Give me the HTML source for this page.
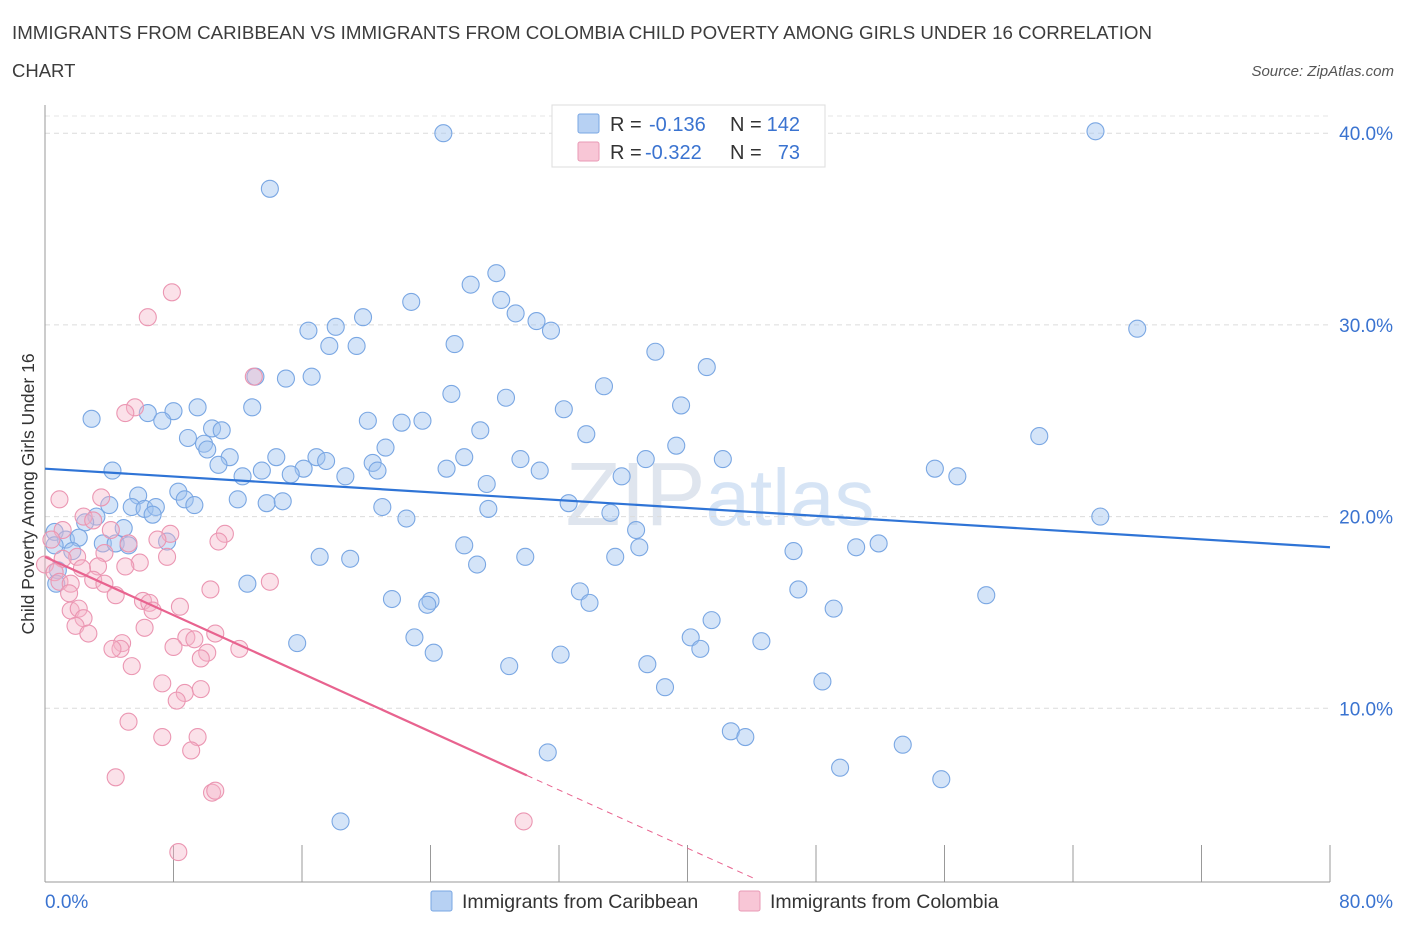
<!DOCTYPE html>
<html><head><meta charset="utf-8"><style>
body{margin:0;background:#fff;font-family:"Liberation Sans",sans-serif;}
svg text{font-family:"Liberation Sans",sans-serif;}
</style></head><body>
<svg id="chart" width="1406" height="930">
<text x="12" y="39" font-size="18.5" fill="#3c3c3c" textLength="1140" lengthAdjust="spacingAndGlyphs">IMMIGRANTS FROM CARIBBEAN VS IMMIGRANTS FROM COLOMBIA CHILD POVERTY AMONG GIRLS UNDER 16 CORRELATION</text>
<text x="12" y="77" font-size="18.5" fill="#3c3c3c">CHART</text>
<text x="1394" y="76" font-size="15" fill="#555" font-style="italic" text-anchor="end">Source: ZipAtlas.com</text>
<text x="720" y="525" font-size="90" fill="#dfe5ee" text-anchor="middle" font-family="Liberation Serif">ZIP<tspan fill="#d6e4f5" font-family="Liberation Sans" font-size="80">atlas</tspan></text>
<g id="grid"></g>
<g id="axes"></g>
<g id="dots"></g>
<g id="trends"></g>
<text x="0" y="0" transform="translate(34,494) rotate(-90)" font-size="17.5" fill="#333" text-anchor="middle">Child Poverty Among Girls Under 16</text>
<g>
<rect x="552" y="105" width="273" height="62" fill="#fff" stroke="#ddd"/>
<rect x="578" y="114" width="21" height="19" fill="#b7d1f3" stroke="#7aa7e3" rx="2"/>
<rect x="578" y="142" width="21" height="19" fill="#f8c6d6" stroke="#e99ab5" rx="2"/>
<text x="610" y="131" font-size="20" fill="#333">R =</text>
<text x="649" y="131" font-size="20" fill="#3a73d0">-0.136</text>
<text x="730" y="131" font-size="20" fill="#333">N =</text>
<text x="800" y="131" font-size="20" fill="#3a73d0" text-anchor="end">142</text>
<text x="610" y="159" font-size="20" fill="#333">R =</text>
<text x="645" y="159" font-size="20" fill="#3a73d0">-0.322</text>
<text x="730" y="159" font-size="20" fill="#333">N =</text>
<text x="800" y="159" font-size="20" fill="#3a73d0" text-anchor="end">73</text>
</g>
<g>
<rect x="431" y="891" width="21" height="20" fill="#b7d1f3" stroke="#7aa7e3" rx="2"/>
<text x="462" y="908" font-size="19.5" fill="#333">Immigrants from Caribbean</text>
<rect x="739" y="891" width="21" height="20" fill="#f8c6d6" stroke="#e99ab5" rx="2"/>
<text x="770" y="908" font-size="19.5" fill="#333">Immigrants from Colombia</text>
</g>
</svg>
<script>
const xTicks=[0,8,16,24,32,40,48,56,64,72,80];
const yTicks=[10,20,30,40];
const blueX=[24.8,65.4,14.0,28.1,26.5,22.8,28.4,29.3,19.8,18.1,16.4,30.6,31.5,68.0,17.7,19.4,25.5,38.0,41.2,16.6,15.0,13.1,34.8,25.3,28.7,39.6,32.3,9.5,12.9,8.0,6.4,2.9,7.3,20.1,22.2,23.5,33.7,27.1,61.9,8.9,10.4,11.0,21.2,9.9,10.1,39.3,11.5,14.4,16.9,17.5,26.1,29.6,37.4,42.2,10.8,4.2,13.5,16.1,20.4,20.7,25.0,30.8,35.9,55.4,56.8,12.3,15.3,18.7,27.5,8.3,8.7,5.8,12.0,4.0,5.4,6.2,6.9,9.3,13.8,14.8,21.0,27.6,32.6,35.2,65.7,6.7,3.2,22.5,2.5,4.9,0.6,1.3,2.1,36.8,3.6,4.4,5.2,7.6,0.6,1.7,26.1,37.0,46.6,50.5,51.9,17.1,19.0,29.9,35.5,26.9,0.8,0.7,12.6,33.3,46.9,58.6,21.6,33.9,24.0,23.8,49.1,41.5,40.2,23.0,44.6,15.7,40.8,24.2,32.1,37.5,28.9,48.4,38.6,31.3,42.7,43.6,53.4,49.5,55.8,18.4];
const blueY=[40.0,40.1,37.1,32.7,32.1,31.2,31.3,30.6,30.4,29.9,29.7,30.2,29.7,29.8,28.9,28.9,29.0,28.6,27.8,27.3,27.2,27.3,26.8,26.4,26.2,25.8,25.6,25.7,25.7,25.5,25.4,25.1,25.0,25.0,24.9,25.0,24.3,24.5,24.2,24.1,24.6,24.5,23.6,23.8,23.5,23.7,23.1,23.1,23.1,22.9,23.1,23.0,23.0,23.0,22.7,22.4,22.4,22.5,22.8,22.4,22.5,22.4,22.1,22.5,22.1,22.1,22.2,22.1,21.7,21.3,20.9,21.1,20.9,20.6,20.5,20.4,20.5,20.6,20.7,20.8,20.5,20.4,20.7,20.2,20.0,20.1,20.0,19.9,19.7,19.4,19.2,18.8,18.9,19.3,18.6,18.6,18.5,18.7,18.5,18.2,18.5,18.4,18.2,18.4,18.6,17.9,17.8,17.9,17.9,17.5,17.2,16.5,16.5,16.1,16.2,15.9,15.7,15.5,15.6,15.4,15.2,14.6,13.7,13.7,13.5,13.4,13.1,12.9,12.8,12.3,12.2,11.4,11.1,7.7,8.8,8.5,8.1,6.9,6.3,4.1];
const pinkX=[7.9,6.4,13.0,5.6,5.0,0.9,3.5,2.4,3.0,1.1,4.1,5.2,11.2,7.8,7.0,10.8,0.4,3.7,2.0,7.6,1.1,0.0,5.9,3.3,2.3,0.6,5.0,3.0,0.9,1.6,3.7,14.0,10.3,1.5,4.4,6.1,6.5,6.7,8.4,1.6,2.1,2.4,1.9,2.7,10.6,8.8,9.3,6.2,4.8,4.7,4.2,8.0,10.1,12.1,9.7,5.4,7.3,8.7,9.7,8.2,5.2,9.5,7.3,9.1,4.4,10.4,10.6,29.8,8.3];
const pinkY=[31.7,30.4,27.3,25.7,25.4,20.9,21.0,20.0,19.8,19.3,19.3,18.6,19.1,19.1,18.8,18.7,18.8,18.1,17.9,17.9,17.8,17.5,17.6,17.4,17.3,17.1,17.4,16.7,16.6,16.5,16.5,16.6,16.2,16.0,15.9,15.6,15.5,15.1,15.3,15.1,15.2,14.7,14.3,13.9,13.9,13.7,13.6,14.2,13.4,13.1,13.1,13.2,12.9,13.1,12.6,12.2,11.3,10.8,11.0,10.4,9.3,8.5,8.5,7.8,6.4,5.6,5.7,4.1,2.5];
const blueTrend=[22.5,18.4];
const pinkTrend=[17.9,6.5];
const pinkSolidEnd=30;
const pinkDashEnd=44.3;

const NS="http://www.w3.org/2000/svg";
const X=v=>45+v*1285/80;
const Y=v=>900-v*19.17;
function mk(parent,tag,attrs){const e=document.createElementNS(NS,tag);for(const k in attrs)e.setAttribute(k,attrs[k]);document.getElementById(parent).appendChild(e);return e;}
yTicks.forEach(t=>{
 const l=mk('grid','line',{x1:45,x2:1330,y1:Y(t),y2:Y(t),stroke:'#dcdcdc','stroke-dasharray':'5,4'});
 
 
 const tx=mk('grid','text',{x:1393,y:Y(t)+7,'font-size':19,fill:'#3a73d0','text-anchor':'end'});
 tx.textContent=t.toFixed(1)+'%';
 
 
});
const tg=mk('grid','line',{x1:45,x2:1330,y1:116,y2:116,stroke:'#e4e4e4','stroke-dasharray':'5,4'});


const ya=mk('axes','line',{x1:45,x2:45,y1:105,y2:882,stroke:'#999'});


const xa=mk('axes','line',{x1:45,x2:1330,y1:882,y2:882,stroke:'#999'});


xTicks.forEach(t=>{
 const l=mk('axes','line',{x1:X(t),x2:X(t),y1:845,y2:882,stroke:'#999'});
 
 
});
[[0,'start',45],[80,'end',1393]].forEach(([v,a,px])=>{
 const tx=mk('axes','text',{x:px,y:908,'font-size':19,fill:'#3a73d0','text-anchor':a});
 tx.textContent=v.toFixed(1)+'%';
 
 
});
blueX.forEach((v,i)=>{
 const c=mk('dots','circle',{cx:X(v),cy:Y(blueY[i]),r:8.5,fill:'rgba(160,195,240,0.45)',stroke:'#7aa7e3','stroke-width':1.1});
 
 
});
pinkX.forEach((v,i)=>{
 const c=mk('dots','circle',{cx:X(v),cy:Y(pinkY[i]),r:8.5,fill:'rgba(245,180,200,0.4)',stroke:'#eb96b2','stroke-width':1.1});
 
 
});
const bt=mk('trends','line',{x1:X(0),y1:Y(blueTrend[0]),x2:X(80),y2:Y(blueTrend[1]),stroke:'#2f74d6','stroke-width':2.2});


const slope=(pinkTrend[1]-pinkTrend[0])/pinkSolidEnd;
const pt=mk('trends','line',{x1:X(0),y1:Y(pinkTrend[0]),x2:X(pinkSolidEnd),y2:Y(pinkTrend[1]),stroke:'#e8638f','stroke-width':2.2});


const pd=mk('trends','line',{x1:X(pinkSolidEnd),y1:Y(pinkTrend[1]),x2:X(pinkDashEnd),y2:Y(pinkTrend[0]+slope*pinkDashEnd),stroke:'#e8638f','stroke-width':1,'stroke-dasharray':'6,5'});


</script>
</body></html>
